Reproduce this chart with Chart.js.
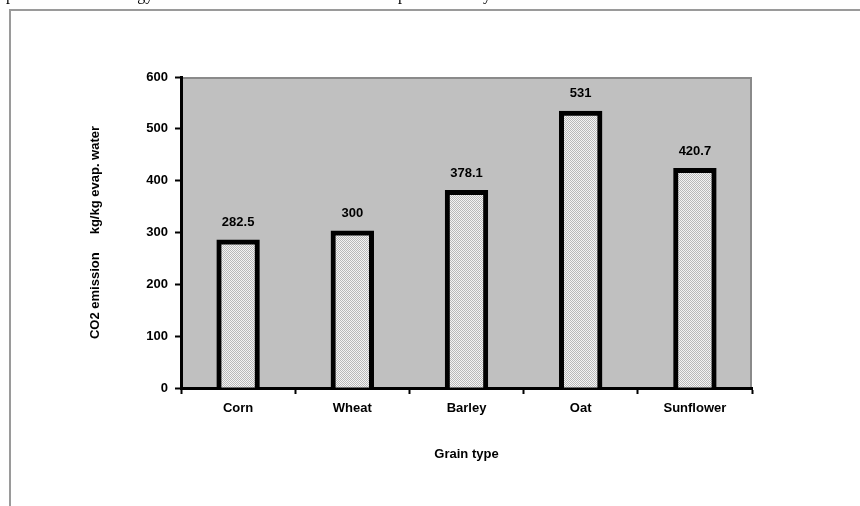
<!DOCTYPE html>
<html>
<head>
<meta charset="utf-8">
<script src="https://cdn.jsdelivr.net/npm/chart.js@4/dist/chart.umd.min.js"></script>
<style>
  html, body { margin: 0; padding: 0; background: #fff; }
  canvas { display: block; }
</style>
</head>
<body>
<canvas id="chart" width="860" height="506"></canvas>
<script>
// Data
const grains = ['Corn', 'Wheat', 'Barley', 'Oat', 'Sunflower'];
const emissions = [282.5, 300, 378.1, 531, 420.7];
const yTicks = [0, 100, 200, 300, 400, 500, 600];
const yTitle = 'CO2 emission     kg/kg evap. water';
const xTitle = 'Grain type';
// Words of the running page text that ends just above the chart frame
const pageWords = [['up', -2], ['energy', 110], ['temperature', 374], ['by', 475]];

const FONT = '"Liberation Sans", Arial, sans-serif';
const canvas = document.getElementById('chart');
const ctx = canvas.getContext('2d');

// Fine stippled fill for the bars
function stipple() {
  const t = document.createElement('canvas');
  t.width = 2; t.height = 2;
  const g = t.getContext('2d');
  g.fillStyle = '#f4f4f4';
  g.fillRect(0, 0, 2, 2);
  g.fillStyle = '#b9b9b9';
  g.fillRect(0, 0, 1, 1);
  g.fillRect(1, 1, 1, 1);
  return ctx.createPattern(t, 'repeat');
}

// Page frame, text fragments and the grey plot area
const backdrop = {
  id: 'backdrop',
  beforeDraw(chart) {
    const { ctx: c, chartArea: a } = chart;
    c.save();
    c.fillStyle = '#000';
    c.font = '16px "Liberation Serif", "Times New Roman", serif';
    c.textBaseline = 'alphabetic';
    c.textAlign = 'left';
    pageWords.forEach(([w, x]) => c.fillText(w, x, -0.5));

    c.strokeStyle = '#9a9a9a';
    c.lineWidth = 2;
    c.beginPath();
    c.moveTo(10, 506);
    c.lineTo(10, 10);
    c.lineTo(860, 10);
    c.stroke();

    c.fillStyle = '#c0c0c0';
    c.fillRect(a.left, a.top, a.right - a.left, a.bottom - a.top);
    c.strokeStyle = '#8a8a8a';
    c.lineWidth = 2;
    c.beginPath();
    c.moveTo(a.left, a.top + 1);
    c.lineTo(a.right - 1, a.top + 1);
    c.lineTo(a.right - 1, a.bottom);
    c.stroke();
    c.restore();
  }
};

// Value printed above each bar
const valueLabels = {
  id: 'valueLabels',
  afterDatasetsDraw(chart) {
    const c = chart.ctx;
    const meta = chart.getDatasetMeta(0);
    c.save();
    c.fillStyle = '#000';
    c.font = 'bold 13px ' + FONT;
    c.textAlign = 'center';
    c.textBaseline = 'middle';
    meta.data.forEach((bar, i) => {
      c.fillText(String(emissions[i]), bar.x, bar.y - 19);
    });
    c.restore();
  }
};

new Chart(ctx, {
  type: 'bar',
  data: {
    labels: grains,
    datasets: [{
      data: emissions,
      backgroundColor: stipple(),
      borderColor: '#000',
      borderWidth: 5,
      inflateAmount: 2,
      barPercentage: 0.345,
      categoryPercentage: 1
    }]
  },
  options: {
    responsive: false,
    animation: false,
    layout: { padding: { left: 84, top: 77, right: 108, bottom: 40 } },
    plugins: {
      legend: { display: false },
      tooltip: { enabled: false }
    },
    scales: {
      x: {
        afterFit(s) { s.height = 78; },
        grid: {
          display: true,
          drawOnChartArea: false,
          drawTicks: true,
          tickLength: 6,
          tickWidth: 2,
          tickColor: '#000',
          offset: true
        },
        border: { display: true, color: '#000', width: 3 },
        ticks: {
          color: '#000',
          padding: 7,
          font: { family: FONT, size: 13, weight: 'bold' }
        },
        title: {
          display: true,
          text: xTitle,
          color: '#000',
          padding: { top: 4, bottom: 4 },
          font: { family: FONT, size: 13, weight: 'bold' }
        }
      },
      y: {
        min: 0,
        max: 600,
        afterFit(s) { s.width = 97; },
        afterBuildTicks(s) { s.ticks = yTicks.map(v => ({ value: v })); },
        grid: {
          display: true,
          drawOnChartArea: false,
          drawTicks: true,
          tickLength: 6,
          tickWidth: 2,
          tickColor: '#000'
        },
        border: { display: true, color: '#000', width: 3 },
        ticks: {
          color: '#000',
          padding: 7,
          font: { family: FONT, size: 13, weight: 'bold' }
        },
        title: {
          display: true,
          text: yTitle,
          color: '#000',
          padding: { top: 4, bottom: 4 },
          font: { family: FONT, size: 13, weight: 'bold' }
        }
      }
    }
  },
  plugins: [backdrop, valueLabels]
});
</script>
</body>
</html>
